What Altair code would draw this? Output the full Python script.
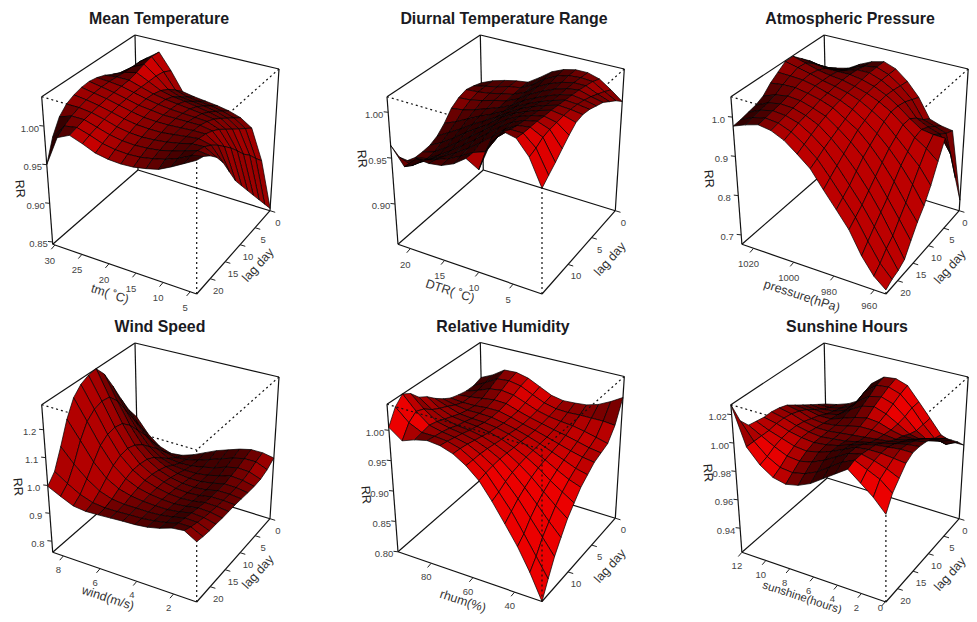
import altair as alt

# RR: rows run from the longest lag to lag 0, columns along the exposure axis
MT_RR = [
[.950,.990,.998,.992,.985,.982,.981,.982,.985,.989,.997,1.006,1.015],
[.979,.998,1.001,.996,.990,.987,.986,.987,.990,.994,1.000,1.008,1.012],
[.998,1.004,1.004,.999,.994,.991,.990,.991,.993,.997,1.002,1.007,1.005],
[1.008,1.008,1.006,1.002,.997,.994,.993,.994,.996,.999,1.003,1.004,.995],
[1.013,1.011,1.008,1.004,1.000,.997,.996,.996,.998,1.000,1.002,.998,.980],
[1.016,1.013,1.010,1.006,1.002,.999,.998,.998,.999,1.000,1.000,.990,.960],
[1.017,1.014,1.011,1.007,1.003,1.001,.999,.999,.999,.999,.996,.980,.940],
[1.015,1.014,1.012,1.008,1.004,1.001,.999,.998,.997,.996,.990,.970,.925],
[1.011,1.013,1.013,1.008,1.003,1.000,.998,.996,.994,.991,.982,.958,.910],
[1.005,1.012,1.016,1.008,1.000,.996,.994,.991,.988,.984,.974,.945,.895],
[1.000,1.012,1.020,1.008,.994,.988,.986,.984,.981,.976,.966,.935,.880],
[.992,1.012,1.023,1.006,.985,.980,.978,.976,.973,.968,.958,.922,.865],
[.985,1.010,1.022,1.000,.975,.972,.970,.968,.965,.960,.950,.910,.850]]
DTR_RR = [
[.964,.945,.958,.957,.959,.965,.975,.967,1.000,1.016,1.013,.997,.968],
[.945,.940,.950,.955,.960,.967,.975,.980,1.000,1.012,1.012,1.000,.975],
[.935,.937,.945,.952,.960,.969,.979,.990,1.002,1.010,1.012,1.005,.982],
[.932,.935,.943,.952,.962,.972,.983,.994,1.003,1.009,1.012,1.007,.990],
[.932,.936,.945,.955,.965,.975,.986,.996,1.003,1.008,1.011,1.008,.998],
[.933,.940,.949,.959,.968,.977,.988,.996,1.002,1.007,1.011,1.009,1.005],
[.937,.945,.953,.962,.970,.978,.987,.995,1.001,1.006,1.010,1.009,1.007],
[.945,.951,.958,.965,.971,.978,.987,.994,1.000,1.005,1.009,1.008,1.006],
[.956,.958,.962,.967,.972,.978,.987,.994,1.000,1.005,1.008,1.006,1.003],
[.962,.963,.966,.970,.973,.979,.988,.995,1.001,1.005,1.007,1.003,1.000],
[.965,.966,.968,.971,.974,.980,.990,.997,1.002,1.005,1.005,.999,.994],
[.963,.966,.969,.973,.975,.982,.992,.999,1.003,1.004,1.003,.995,.988],
[.960,.966,.970,.973,.975,.984,.994,1.000,1.003,1.003,.999,.990,.980]]
AP_RR = [
[.977,.990,1.000,.995,.980,.955,.928,.885,.845,.805,.750,.710,.686],
[.980,.995,1.003,1.000,.987,.965,.938,.900,.860,.820,.770,.725,.695],
[.985,1.000,1.008,1.005,.995,.975,.950,.915,.875,.835,.790,.745,.700],
[.990,1.005,1.012,1.010,1.000,.985,.960,.930,.895,.855,.810,.760,.710],
[1.000,1.012,1.018,1.015,1.005,.993,.970,.945,.915,.875,.830,.785,.740],
[1.020,1.025,1.026,1.020,1.012,1.000,.980,.960,.930,.895,.855,.810,.770],
[1.035,1.034,1.032,1.025,1.015,1.005,.990,.970,.945,.915,.880,.840,.795],
[1.050,1.042,1.034,1.025,1.018,1.010,.998,.980,.960,.930,.900,.870,.830],
[1.050,1.040,1.030,1.024,1.020,1.012,1.002,.988,.970,.945,.920,.900,.875],
[1.030,1.025,1.020,1.020,1.020,1.015,1.005,.990,.970,.945,.925,.920,.919],
[1.010,1.004,1.002,1.008,1.018,1.018,1.006,.988,.965,.930,.915,.905,.860],
[.985,.984,.986,1.000,1.013,1.018,1.006,.984,.955,.910,.900,.890,.780],
[.960,.968,.976,.995,1.010,1.018,1.006,.980,.945,.895,.885,.880,.704]]
WS_RR = [
[.997,.975,.955,.950,.952,.955,.958,.960,.965,.975,.990,.995,.970],
[1.030,1.000,.975,.960,.955,.956,.958,.960,.965,.973,.985,.985,.965],
[1.100,1.050,1.010,.980,.965,.960,.960,.960,.963,.970,.980,.978,.962],
[1.180,1.115,1.050,1.005,.980,.968,.962,.960,.960,.965,.975,.972,.962],
[1.240,1.165,1.090,1.030,.995,.975,.965,.960,.958,.962,.970,.968,.960],
[1.270,1.190,1.110,1.045,1.005,.980,.966,.958,.955,.958,.966,.965,.960],
[1.285,1.200,1.115,1.050,1.005,.980,.965,.955,.952,.955,.963,.963,.960],
[1.290,1.195,1.108,1.040,1.000,.973,.958,.950,.948,.952,.962,.962,.958],
[1.250,1.160,1.080,1.020,.985,.963,.950,.945,.946,.953,.963,.962,.956],
[1.185,1.105,1.040,.990,.960,.945,.940,.940,.946,.957,.968,.965,.955],
[1.115,1.050,1.000,.960,.935,.930,.932,.940,.950,.965,.975,.972,.957],
[1.050,.995,.950,.925,.915,.920,.930,.945,.960,.975,.985,.985,.968],
[1.000,.945,.910,.895,.900,.915,.935,.955,.970,.985,.995,.995,.987]]
RH_RR = [
[1.005,.989,.997,1.002,1.000,.993,.980,.962,.935,.905,.875,.840,.800],
[1.030,1.010,1.000,1.000,.998,.992,.980,.965,.940,.915,.885,.855,.825],
[1.043,1.020,1.003,.998,.995,.990,.980,.967,.947,.925,.900,.875,.850],
[1.035,1.015,1.000,.995,.992,.987,.979,.968,.952,.933,.912,.890,.870],
[1.020,1.005,.995,.990,.988,.984,.977,.968,.955,.940,.922,.905,.890],
[1.012,.998,.990,.987,.985,.981,.975,.967,.957,.945,.930,.917,.905],
[1.000,.992,.985,.983,.982,.979,.974,.967,.958,.948,.937,.927,.920],
[.990,.985,.982,.982,.981,.977,.972,.966,.959,.951,.943,.935,.930],
[.982,.980,.980,.982,.982,.977,.971,.966,.960,.954,.948,.943,.940],
[.978,.980,.983,.986,.985,.978,.972,.967,.962,.958,.953,.948,.945],
[.975,.982,.990,.993,.990,.982,.974,.969,.966,.964,.960,.955,.950],
[.975,.986,.998,1.000,.996,.986,.977,.972,.971,.972,.972,.972,.970],
[.980,.990,1.004,1.005,1.000,.990,.980,.976,.977,.979,.985,.995,1.007]]
SH_RR = [
[1.027,1.000,.990,.984,.982,.984,.988,.994,1.000,1.006,.999,.992,.983],
[1.012,1.000,.992,.987,.986,.988,.992,.998,1.004,1.008,1.004,1.000,.993],
[1.005,1.000,.995,.991,.990,.992,.996,1.001,1.006,1.008,1.006,1.003,.999],
[1.004,1.000,.997,.994,.993,.995,.998,1.002,1.006,1.007,1.007,1.006,1.005],
[1.003,1.001,.998,.996,.995,.996,.998,1.001,1.004,1.006,1.007,1.008,1.008],
[1.003,1.001,.998,.996,.995,.996,.997,.999,1.001,1.003,1.005,1.007,1.008],
[1.002,1.000,.997,.995,.995,.996,.997,.998,.999,1.000,1.002,1.005,1.007],
[1.000,.998,.995,.994,.995,.997,.999,.999,.998,.997,.999,1.002,1.005],
[.996,.995,.993,.993,.996,.999,1.001,1.000,.997,.995,.995,.998,1.000],
[.992,.991,.990,.992,.998,1.003,1.005,1.002,.997,.992,.990,.993,.996],
[.988,.987,.988,.991,1.000,1.006,1.008,1.005,.998,.990,.985,.987,.990],
[.984,.984,.986,.990,1.003,1.010,1.011,1.008,1.000,.990,.982,.980,.984],
[.980,.982,.985,.990,1.005,1.012,1.013,1.010,1.000,.990,.980,.977,.977]]

TITLES = ["Mean Temperature", "Diurnal Temperature Range", "Atmospheric Pressure",
          "Wind Speed", "Relative Humidity", "Sunshine Hours"]
X_TITLES = ["tm( ˚C)", "DTR( ˚C)", "pressure(hPa)", "wind(m/s)", "rhum(%)", "sunshine(hours)"]
Z_LIMS = [(.847, 1.038), (.856, 1.017), (.676, 1.052), (.76, 1.29), (.80, 1.043), (.923, 1.027)]
X_LIMS = [(30.4, 3.8), (21.8, .8), (1025.8, 954.2), (8.58, .74), (95.9, 26.9), (12, -.05)]
LAG_MAX = [24.5, 15.5, 23.8, 24.5, 15.5, 23.8]
Z_TICKS = [[.85, .90, .95, 1.00], [.90, .95, 1.00], [.7, .8, .9, 1.0],
           [.8, .9, 1.0, 1.1, 1.2], [.80, .85, .90, .95, 1.00], [.94, .96, .98, 1.00, 1.02]]
Z_FMT = [2, 2, 1, 1, 2, 2]
X_TICKS = [[30, 25, 20, 15, 10, 5], [20, 15, 10, 5], [1020, 1000, 980, 960],
           [8, 6, 4, 2], [80, 60, 40], [12, 10, 8, 6, 4, 2, 0]]
LAG_TICKS = [[0, 5, 10, 15, 20], [0, 5, 10], [0, 5, 10, 15, 20],
             [0, 5, 10, 15, 20], [0, 5, 10], [0, 5, 10, 15, 20]]
GRIDS = [MT_RR, DTR_RR, AP_RR, WS_RR, RH_RR, SH_RR]

# layout of the shared 3D box, in pixels
OFFS = [(0, 0), (345.3, 0), (689.2, 0), (0, 308), (345.3, 307.5), (689.2, 308)]
BOT = dict(L=(52.7, 244.3), B=(138, 170), R=(270, 210.7), F=(196.7, 294))
TOP = dict(L=(41.7, 96.7), B=(135, 35), R=(279, 69), F=(196.7, 142))
TITLE_POS = [(159, 19), (504, 19), (850, 19), (160, 327), (503, 327), (847, 327)]
RR_POS = [(20, 189), (362, 159), (709, 179), (18, 487), (366, 495), (708, 473)]
XT_POS = [(110, 294), (450, 291), (802, 296), (108, 598), (463, 601), (802, 598)]
LT_POS = [(258, 265), (610, 259), (950, 267), (258, 572), (610, 566), (950, 574)]
LIGHT = (.72, .42, .55)
ZS = 1.1
DOTS_ON_TOP = [4]
MESH_DARKEN = [.92, .95, .8, .76, 1, 1]
MAX_LABEL_X = 957
MAX_LABEL_Y = 600
X_LABEL_DY = [16, 16, 16, 14, 14, 14]
LONG_TITLE = 5


def bil(c, u, v):
    return tuple((1-u)*v*c['L'][k] + u*v*c['F'][k] + u*(1-v)*c['R'][k] + (1-u)*(1-v)*c['B'][k] for k in (0, 1))


def proj(p, u, v, f):
    b, t = bil(BOT, u, v), bil(TOP, u, v)
    dx, dy = OFFS[p]
    return [(1-f)*b[0] + f*t[0] + dx - 8, (1-f)*b[1] + f*t[1] + dy - 8]


def corner(p, c, top):
    d = TOP if top else BOT
    dx, dy = OFFS[p]
    return [d[c][0] + dx - 8, d[c][1] + dy - 8]


def line(*pts):
    return {"type": "Feature", "properties": {}, "geometry": {"type": "LineString", "coordinates": [list(q) for q in pts]}}


facets, back, dotted, dotted_top, ticks, small, ttl, rr_t, xt_t, xt_long, lt_t = [], [], [], [], [], [], [], [], [], [], []
for p, grid in enumerate(GRIDS):
    zl, zh = Z_LIMS[p]
    F = [[(x - zl) / (zh - zl) for x in row] for row in grid]
    n = len(grid) - 1
    order = sorted(((i, j) for i in range(n) for j in range(n)), key=lambda a: a[1] - a[0])
    for i, j in order:
        v0, v1 = 1 - i/n, 1 - (i+1)/n
        u0, u1 = j/n, (j+1)/n
        f00, f01, f10, f11 = F[i][j], F[i][j+1], F[i+1][j], F[i+1][j+1]
        dfu = ((f01 - f00) + (f11 - f10)) / 2 * n * ZS
        dfv = ((f00 - f10) + (f01 - f11)) / 2 * n * ZS
        nn = (-dfu, -dfv, 1)
        m = sum(a*a for a in nn) ** .5
        s = max(0, sum(a*b for a, b in zip(nn, LIGHT)) / m)
        r = int((45 + 190 * min(1, s ** 1.6 * 1.1)) * MESH_DARKEN[p])
        ring = [proj(p, u0, v0, f00), proj(p, u1, v0, f01), proj(p, u1, v1, f11), proj(p, u0, v1, f10)]
        ring.append(ring[0])
        facets.append({"type": "Feature", "properties": {"c": f"#{r:02x}0000"},
                       "geometry": {"type": "Polygon", "coordinates": [ring]}})
    C = lambda c, t: corner(p, c, t)
    back += [line(C('L', 0), C('B', 0)), line(C('B', 0), C('R', 0)), line(C('B', 0), C('B', 1))]
    back += [line(C('L', 1), C('B', 1)), line(C('B', 1), C('R', 1)), line(C('R', 1), C('R', 0)),
             line(C('L', 1), C('L', 0)), line(C('L', 0), C('F', 0)), line(C('F', 0), C('R', 0))]
    target = dotted_top if p in DOTS_ON_TOP else dotted
    target += [line(C('L', 1), C('F', 1)), line(C('R', 1), C('F', 1)), line(C('F', 1), C('F', 0))]
    d = Z_FMT[p]
    for val in Z_TICKS[p]:
        a = proj(p, 0, 1, (val - zl) / (zh - zl))
        ticks.append(line(a, [a[0] - 4.5, a[1] - .5]))
        small.append({"x": a[0] - 14, "y": a[1] + 2.5, "t": f"{val:.{d}f}"})
    xa, xb = X_LIMS[p]
    for val in X_TICKS[p]:
        a = proj(p, (xa - val) / (xa - xb), 1, 0)
        ticks.append(line(a, [a[0] - 3.6, a[1] + 4.2]))
        small.append({"x": a[0] - 5, "y": min(a[1] + X_LABEL_DY[p], MAX_LABEL_Y), "t": str(val)})
    for val in LAG_TICKS[p]:
        a = proj(p, 1, val / LAG_MAX[p], 0)
        ticks.append(line(a, [a[0] + 5.2, a[1] + 1.6]))
        small.append({"x": min(a[0] + 8, MAX_LABEL_X), "y": a[1] + 12, "t": str(val)})
    ttl.append({"x": TITLE_POS[p][0] - 8, "y": TITLE_POS[p][1] - 8, "t": TITLES[p]})
    rr_t.append({"x": RR_POS[p][0] - 8, "y": RR_POS[p][1] - 8, "t": "RR"})
    (xt_long if p == LONG_TITLE else xt_t).append({"x": XT_POS[p][0] - 8, "y": XT_POS[p][1] - 8, "t": X_TITLES[p]})
    lt_t.append({"x": LT_POS[p][0] - 8, "y": LT_POS[p][1] - 8, "t": "lag day"})


def geo(features):
    return alt.InlineData(values=features, format=alt.JsonDataFormat(type='json'))


FONT = "Liberation Sans"
PR = dict(type='identity', scale=1, translate=[0, 0])


def text(rows, **kw):
    return alt.Chart(alt.Data(values=rows)).mark_text(font=FONT, **kw).encode(
        longitude='x:Q', latitude='y:Q', text='t:N').project(**PR)


def lines(features, **kw):
    return alt.Chart(geo(features)).mark_geoshape(filled=False, **kw).project(**PR)


box = lines(back, stroke='#111', strokeWidth=1.2)
dots = lines(dotted, stroke='#111', strokeWidth=1.2, strokeDash=[2, 3])
dots_top = lines(dotted_top, stroke='#111', strokeWidth=1.2, strokeDash=[2, 3])
surf = alt.Chart(geo(facets)).mark_geoshape(stroke='#000', strokeWidth=.7).encode(
    fill=alt.Fill('properties.c:N', scale=None)).project(**PR)
tk = lines(ticks, stroke='#222', strokeWidth=1)

chart = alt.layer(
    box, dots, surf, dots_top, tk,
    text(small, fontSize=9.5, color='#444', align='center', baseline='middle'),
    text(ttl, fontSize=15.9, fontWeight='bold', color='#1a1a22', align='center', baseline='middle'),
    text(rr_t, fontSize=12.5, angle=85, color='#222', align='center', baseline='middle'),
    text(xt_t, fontSize=12.5, angle=18, color='#333', align='center', baseline='middle'),
    text(xt_long, fontSize=11.5, angle=18, color='#333', align='center', baseline='middle'),
    text(lt_t, fontSize=12.5, angle=312, color='#333', align='center', baseline='middle'),
).properties(width=961, height=606, padding=0, autosize=alt.AutoSizeParams(type='none'),
             background='white').configure_view(strokeWidth=0)

chart.save("out.html", embed_options={"renderer": "svg", "actions": False})
